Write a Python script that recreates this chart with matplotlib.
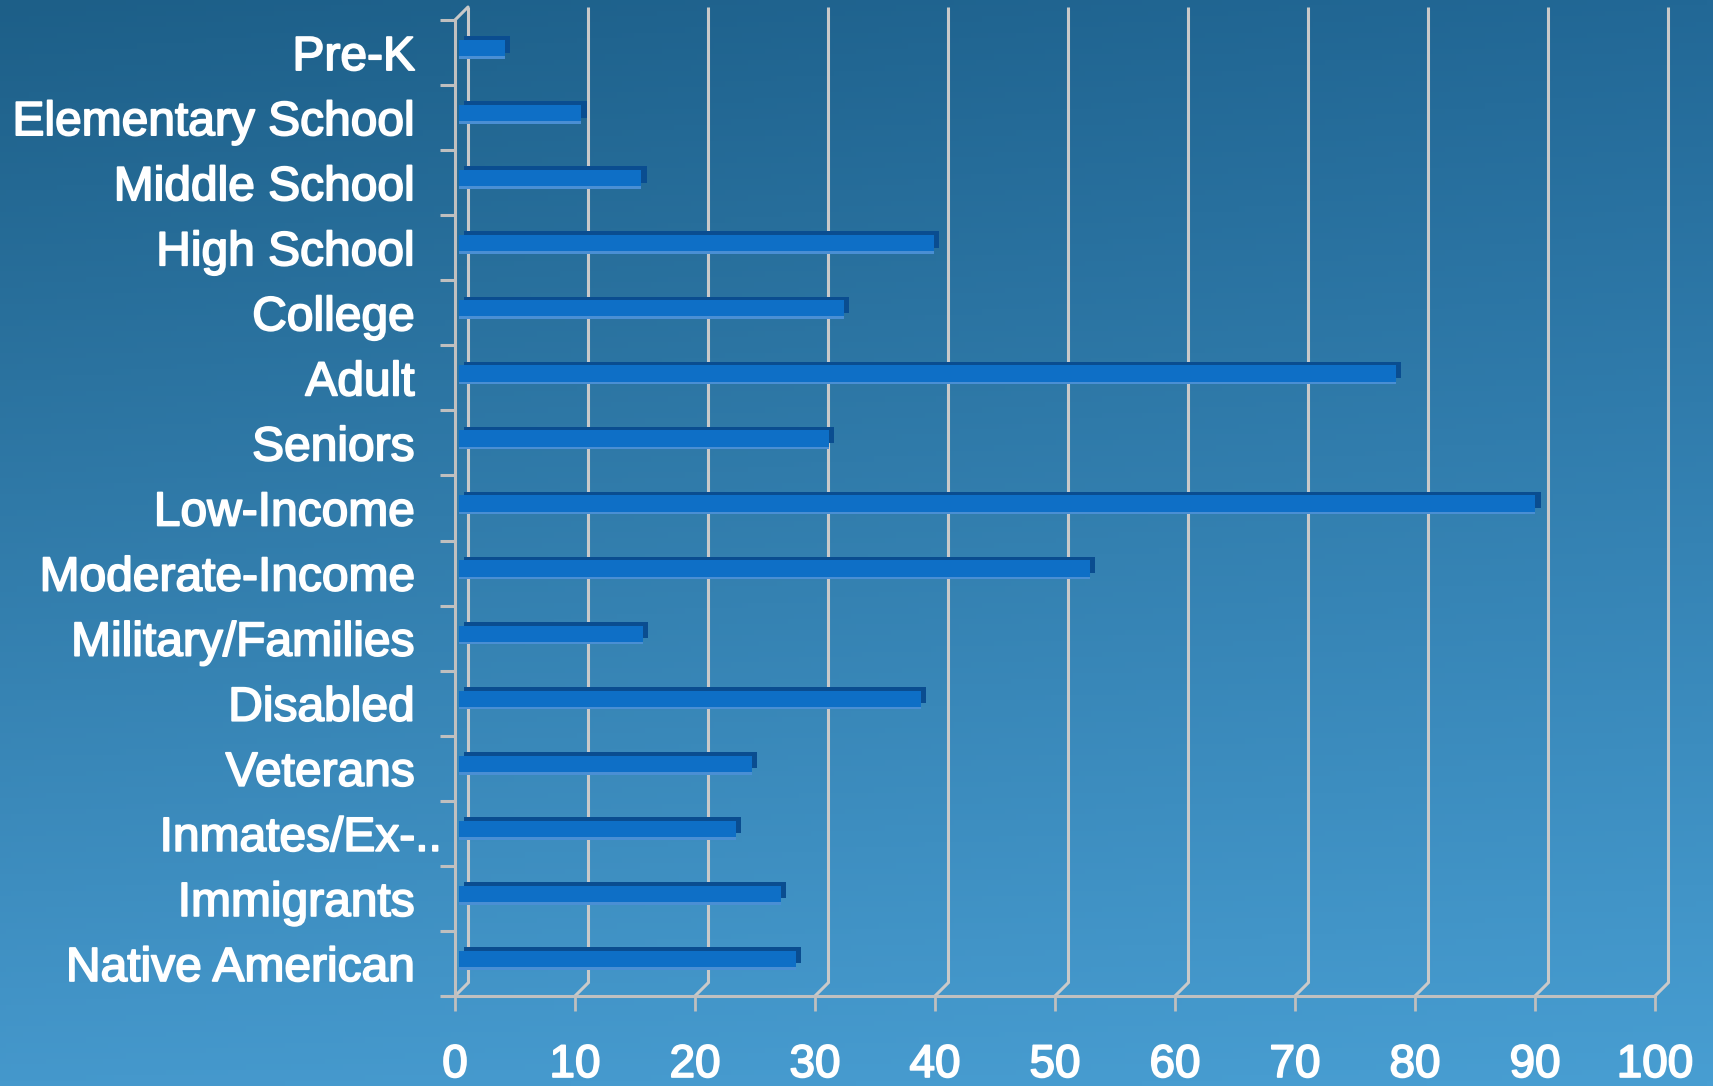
import numpy as np
import matplotlib
matplotlib.use("Agg")
import matplotlib.pyplot as plt
import matplotlib.transforms as mtransforms
import matplotlib.patheffects as pe
from matplotlib import font_manager

# ---- data ----
categories = ["Pre-K", "Elementary School", "Middle School", "High School", "College",
              "Adult", "Seniors", "Low-Income", "Moderate-Income", "Military/Families",
              "Disabled", "Veterans", "Inmates/Ex-..", "Immigrants", "Native American"]
values = [3.8, 10.2, 15.2, 39.6, 32.1, 78.1, 30.8, 89.7, 52.6, 15.3, 38.5, 24.4, 23.1, 26.8, 28.1]
x_ticks = [0, 10, 20, 30, 40, 50, 60, 70, 80, 90, 100]
x_ticklabels = [str(v) for v in x_ticks]

plt.rcParams["font.family"] = ["Liberation Sans", "DejaVu Sans"]
names = {f.name for f in font_manager.fontManager.ttflist}
if "Liberation Sans Narrow" in names:
    xfont, xsize = "Liberation Sans Narrow", 37
else:
    xfont, xsize = "Liberation Sans", 33

DPI = 100
fig = plt.figure(figsize=(17.13, 10.86), dpi=DPI)

# ---- gradient background ----
bg = fig.add_axes([0, 0, 1, 1], zorder=0)
H, W = 200, 300
yy = np.linspace(0, 1, H)[:, None, None]
xx = np.linspace(0, 1, W)[None, :, None]
tl = np.array([29, 95, 136]) / 255
tr = np.array([34, 104, 150]) / 255
bl = np.array([69, 152, 204]) / 255
br = np.array([72, 158, 210]) / 255
img = (1 - yy) * ((1 - xx) * tl + xx * tr) + yy * ((1 - xx) * bl + xx * br)
bg.imshow(img, extent=[0, 1, 0, 1], aspect="auto", origin="upper")
bg.set_axis_off()

# ---- main axes (front plane) ----
ax = fig.add_axes([0.26562, 0.08287, 0.70053, 0.89871], zorder=1)
ax.patch.set_alpha(0)
n = len(categories)
ypos = np.arange(n)

grid_color = "#c9c9c9"
depth = 0.13  # inches (13 px) back-wall offset
back = ax.transData + mtransforms.ScaledTranslation(depth, depth, fig.dpi_scale_trans)
ax.vlines(x_ticks, -0.5, n - 0.5, transform=back, colors=grid_color, lw=2.2,
          zorder=1, clip_on=False)
for xv in x_ticks:
    ax.annotate("", xy=(xv, n - 0.5), xytext=(13, 13), textcoords="offset pixels",
                arrowprops=dict(arrowstyle="-", color=grid_color, lw=2.2,
                                shrinkA=0, shrinkB=0),
                annotation_clip=False, zorder=1)
ax.annotate("", xy=(0, -0.5), xytext=(13, 13), textcoords="offset pixels",
            arrowprops=dict(arrowstyle="-", color=grid_color, lw=2.2, shrinkA=0, shrinkB=0),
            annotation_clip=False, zorder=1)

# ---- bars (pseudo 3D) ----
bar_tf = ax.transData + mtransforms.ScaledTranslation(0.04, 0.045, fig.dpi_scale_trans)
bh = 0.25
ax.barh(ypos, values, height=bh, left=0, color="#0e6fc6", zorder=3, transform=bar_tf,
        path_effects=[pe.SimplePatchShadow(offset=(3.8, 2.6), shadow_rgbFace="#0a4d90",
                                           alpha=1.0), pe.Normal()])
ax.barh(ypos + bh / 2 + 0.02, values, height=0.04, left=0, color="#4a8fd4",
        zorder=3, transform=bar_tf)

ax.set_xlim(0, 100)
ax.set_ylim(n - 0.5, -0.5)

# ---- spines & ticks ----
for s in ["top", "right"]:
    ax.spines[s].set_visible(False)
for s in ["left", "bottom"]:
    ax.spines[s].set_color("#c0c0c0")
    ax.spines[s].set_linewidth(2.2)
    ax.spines[s].set_zorder(2)

bold_fx = [pe.withStroke(linewidth=1.3, foreground="white")]

ax.set_xticks(x_ticks)
ax.set_xticklabels(x_ticklabels, family=[xfont, "DejaVu Sans"], fontsize=xsize, color="white")
ax.tick_params(axis="x", direction="out", length=10.8, width=2, color="#bfbfbf", pad=23)

ax.set_yticks(ypos)
ax.set_yticklabels(categories, fontsize=34.5, color="white")
ax.tick_params(axis="y", which="major", length=0, pad=29)
ax.set_yticks(np.arange(-0.5, n, 1.0), minor=True)
ax.tick_params(axis="y", which="minor", direction="out", length=11, width=2.2, color="#bfbfbf")

for lbl in ax.get_xticklabels() + ax.get_yticklabels():
    lbl.set_path_effects(bold_fx)

# truncated label overflows to the right like the original
tk = ax.yaxis.get_major_ticks()[12]
tk.label1.set_transform(tk.label1.get_transform() +
                        mtransforms.ScaledTranslation(0.27, 0, fig.dpi_scale_trans))

fig.savefig("out.png", dpi=DPI)
